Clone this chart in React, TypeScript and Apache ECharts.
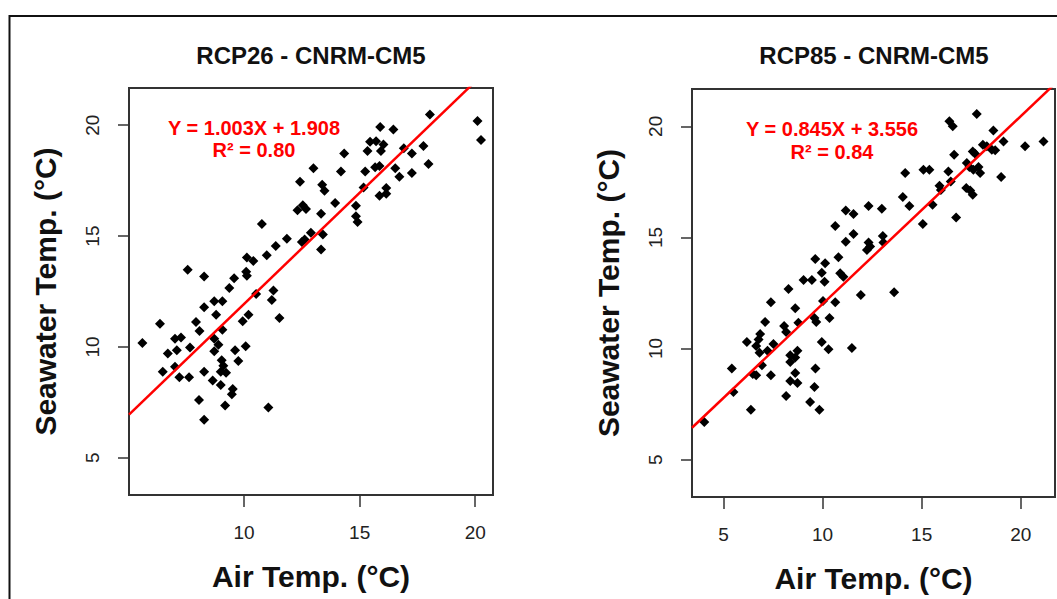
import React, { useEffect, useRef } from "react";
import * as echarts from "echarts";

// ---- Data ----
const panelTitles = ["RCP26 - CNRM-CM5", "RCP85 - CNRM-CM5"];
const xAxisTitle = "Air Temp. (°C)";
const yAxisTitle = "Seawater Temp. (°C)";

const slopes = [1.003, 0.845];
const intercepts = [1.908, 3.556];
const rSquared = ["0.80", "0.84"];

const xTicksLeft = [10, 15, 20];
const xTicksRight = [5, 10, 15, 20];
const yTicks = [5, 10, 15, 20];

const xRangeLeft = [5.02, 20.77];
const xRangeRight = [3.41, 21.73];
const yRange = [3.32, 21.68];

const airLeft = [
  20.1, 20.25, 18.04, 15.89, 16.46, 15.45, 15.71, 16.03, 15.34, 15.92, 16.91, 17.26, 17.76, 17.98, 17.26, 16.54,
  16.72, 15.67, 15.86, 15.24, 14.33, 14.19, 13.0, 12.42, 13.38, 13.48, 15.17, 16.15, 16.15, 15.86, 13.94, 14.84,
  14.84, 14.91, 12.31, 12.54, 12.68, 13.33, 10.77, 11.85, 11.37, 10.98, 12.89, 13.41, 12.5, 12.62, 13.33, 10.12,
  10.4, 7.56, 8.27, 9.57, 10.09, 10.12,
  9.36, 10.52, 11.27, 11.2, 11.53, 8.71, 9.06, 8.27, 8.79, 10.19, 9.94, 7.92, 6.36, 8.07, 9.06, 7.01, 7.27, 5.6,
  8.71, 8.89, 8.71, 7.66, 6.7, 7.09, 9.61, 10.07, 9.03, 9.1, 9.22, 8.99, 9.75, 7.01, 6.48, 7.2, 7.62, 8.27, 8.64,
  8.99, 9.51, 9.47, 8.05, 9.18, 11.05, 8.27,
];
const seaLeft = [
  20.19, 19.33, 20.48, 19.92, 19.81, 19.25, 19.28, 19.13, 18.84, 18.84, 18.96, 18.73, 19.06, 18.25, 17.84, 18.06,
  17.68, 18.1, 18.16, 17.91, 18.73, 17.91, 18.06, 17.45, 17.31, 17.04, 17.19, 17.17, 16.91, 16.82, 16.49, 16.37,
  15.89, 15.63, 16.16, 16.39, 16.22, 16.01, 15.55, 14.88, 14.55, 14.13, 15.15, 15.07, 14.73, 14.85, 14.4, 14.03,
  13.88, 13.48, 13.18, 13.1, 13.39, 13.21,
  12.66, 12.39, 12.54, 12.12, 11.31, 12.06, 12.06, 11.79, 11.45, 11.45, 11.16, 11.12, 11.04, 10.72, 10.78, 10.37,
  10.42, 10.18, 10.37, 10.1, 9.8, 9.97, 9.7, 9.85, 9.85, 10.03, 9.4, 9.15, 8.84, 8.88, 9.37, 9.1, 8.88, 8.63, 8.63,
  8.88, 8.49, 8.28, 8.1, 7.86, 7.61, 7.36, 7.27, 6.71,
];

const airRight = [
  17.78, 16.4, 16.57, 18.62, 20.22, 21.15, 19.13, 18.09, 18.29, 18.54, 18.71, 16.64, 17.58, 17.7, 17.28, 17.41,
  17.61, 17.87, 17.95, 19.01, 16.35, 16.47, 15.9, 15.97, 17.25, 17.45, 17.58, 15.55, 15.06, 16.74, 15.09, 15.39,
  14.17, 14.05, 14.38, 12.32, 12.99, 11.17, 11.56, 10.64, 11.56, 11.17, 13.04, 13.07, 12.32, 12.4, 12.24, 9.63,
  10.13, 10.8, 9.96, 10.89, 11.05,
  9.04, 9.46, 10.1, 8.28, 11.93, 13.61, 7.39, 10.02, 10.64, 8.62, 7.1, 8.06, 8.16, 8.78, 9.59, 9.68, 10.35, 6.85,
  6.77, 6.65, 6.82, 6.18, 7.52, 7.22, 8.37, 8.73, 8.62, 8.37, 9.96, 10.3, 11.48, 5.42, 6.48, 6.65, 6.94, 7.39, 8.62,
  8.37, 8.73, 9.64, 5.5, 8.16, 9.59, 9.37, 6.38, 9.84, 4.03,
];
const seaRight = [
  20.56, 20.23, 20.0, 19.81, 19.1, 19.32, 19.32, 19.17, 19.1, 18.95, 18.92, 18.72, 18.87, 18.77, 18.35, 18.17,
  18.05, 18.17, 17.9, 17.72, 17.97, 17.52, 17.33, 17.14, 17.22, 17.11, 16.92, 16.47, 15.6, 15.9, 18.05, 18.05,
  17.9, 16.82, 16.42, 16.42, 16.29, 16.21, 16.06, 15.52, 15.16, 14.81, 15.07, 14.77, 14.77, 14.59, 14.44, 14.03,
  13.84, 14.11, 13.41, 13.39, 13.23,
  13.09, 13.09, 13.01, 12.68, 12.41, 12.53, 12.08, 12.14, 12.08, 11.81, 11.2, 11.01, 10.75, 11.16, 11.38, 11.2,
  11.38, 10.65, 10.41, 10.11, 9.81, 10.3, 10.2, 9.9, 9.7, 9.9, 9.6, 9.4, 10.3, 9.97, 10.03, 9.1, 8.85, 8.8, 9.25,
  8.8, 8.9, 8.54, 8.45, 9.1, 8.05, 7.87, 8.27, 7.6, 7.25, 7.25, 6.69,
];

const FONT = "'Liberation Sans', Arial, sans-serif";
const NARROW = "'Liberation Sans Narrow', 'Arial Narrow', 'Liberation Sans', Arial, sans-serif";

function pairs(xs: number[], ys: number[]) {
  return xs.map((x, i) => [x, ys[i]]);
}

function fitLine(i: number, range: number[]) {
  return range.map((x) => [x, slopes[i] * x + intercepts[i]]);
}

function fmtEq(i: number) {
  return `Y = ${slopes[i].toFixed(3)}X + ${intercepts[i].toFixed(3)}`;
}

export default function App() {
  const ref = useRef<HTMLDivElement>(null);

  useEffect(() => {
    if (!ref.current) return;
    const chart = echarts.init(ref.current, undefined, { renderer: "svg" });

    const grids = [
      { left: 129, top: 88, width: 364, height: 407 },
      { left: 692, top: 89, width: 363, height: 408 },
    ];

    const xAxisBase = (gi: number, range: number[], ticks: number[]) => ({
      gridIndex: gi,
      type: "value",
      min: range[0],
      max: range[1],
      axisLine: { show: false },
      splitLine: { show: false },
      axisTick: {
        show: true,
        length: 12,
        customValues: ticks,
        lineStyle: { color: "#333", width: 1.5 },
      },
      axisLabel: {
        customValues: ticks,
        margin: 28,
        fontSize: 19,
        color: "#222",
        fontFamily: NARROW,
      },
      name: xAxisTitle,
      nameLocation: "middle",
      nameGap: 66,
      nameTextStyle: { fontSize: 30, fontWeight: "bold", color: "#111", fontFamily: FONT },
    });

    const yAxisBase = (gi: number) => ({
      gridIndex: gi,
      type: "value",
      min: yRange[0],
      max: yRange[1],
      axisLine: { show: false },
      splitLine: { show: false },
      axisTick: {
        show: true,
        length: 11,
        customValues: yTicks,
        lineStyle: { color: "#333", width: 1.5 },
      },
      axisLabel: {
        customValues: yTicks,
        rotate: 90,
        margin: 27,
        fontSize: 19,
        color: "#222",
        fontFamily: NARROW,
      },
      name: yAxisTitle,
      nameLocation: "middle",
      nameRotate: 90,
      nameGap: 69,
      nameTextStyle: { fontSize: 30, fontWeight: "bold", color: "#111", fontFamily: FONT },
    });

    const annot = (cx: number, y1: number, y2: number, i: number) => [
      {
        type: "text",
        x: cx,
        y: y1,
        style: {
          text: fmtEq(i),
          fill: "#ff0000",
          fontSize: 20,
          fontWeight: "bold",
          fontFamily: FONT,
          align: "center",
          verticalAlign: "middle",
        },
      },
      {
        type: "text",
        x: cx,
        y: y2,
        style: {
          text: `R² = ${rSquared[i]}`,
          fill: "#ff0000",
          fontSize: 20,
          fontWeight: "bold",
          fontFamily: FONT,
          align: "center",
          verticalAlign: "middle",
        },
      },
    ];

    const titleText = (cx: number, i: number) => ({
      type: "text",
      x: cx,
      y: 55,
      style: {
        text: panelTitles[i],
        fill: "#111",
        fontSize: 24,
        fontWeight: "bold",
        fontFamily: FONT,
        align: "center",
        verticalAlign: "middle",
      },
    });

    const scatterStyle = {
      type: "scatter",
      symbol: "diamond",
      symbolSize: 10,
      itemStyle: { color: "#000", opacity: 1 },
      z: 2,
    };

    const option = {
      animation: false,
      backgroundColor: "#ffffff",
      grid: grids.map((g) => ({
        ...g,
        show: true,
        borderColor: "#333",
        borderWidth: 2,
        backgroundColor: "transparent",
      })),
      xAxis: [xAxisBase(0, xRangeLeft, xTicksLeft), xAxisBase(1, xRangeRight, xTicksRight)],
      yAxis: [yAxisBase(0), yAxisBase(1)],
      series: [
        { ...scatterStyle, xAxisIndex: 0, yAxisIndex: 0, data: pairs(airLeft, seaLeft) },
        { ...scatterStyle, xAxisIndex: 1, yAxisIndex: 1, data: pairs(airRight, seaRight) },
        {
          type: "line",
          xAxisIndex: 0,
          yAxisIndex: 0,
          data: fitLine(0, xRangeLeft),
          showSymbol: false,
          symbol: "none",
          clip: true,
          lineStyle: { color: "#ff0000", width: 2.5 },
          z: 3,
        },
        {
          type: "line",
          xAxisIndex: 1,
          yAxisIndex: 1,
          data: fitLine(1, xRangeRight),
          showSymbol: false,
          symbol: "none",
          clip: true,
          lineStyle: { color: "#ff0000", width: 2.5 },
          z: 3,
        },
      ],
      graphic: [
        {
          type: "rect",
          shape: { x: 9.5, y: 16, width: 1100, height: 700 },
          style: { fill: "none", stroke: "#111", lineWidth: 2 },
          silent: true,
        },
        titleText(311, 0),
        titleText(874, 1),
        ...annot(254, 128, 150, 0),
        ...annot(832, 128.5, 151.5, 1),
      ],
    };

    chart.setOption(option as any);
    return () => chart.dispose();
  }, []);

  return (
    <div
      ref={ref}
      style={{ position: "fixed", left: 0, top: 0, width: 1057, height: 599, background: "#fff" }}
    />
  );
}
